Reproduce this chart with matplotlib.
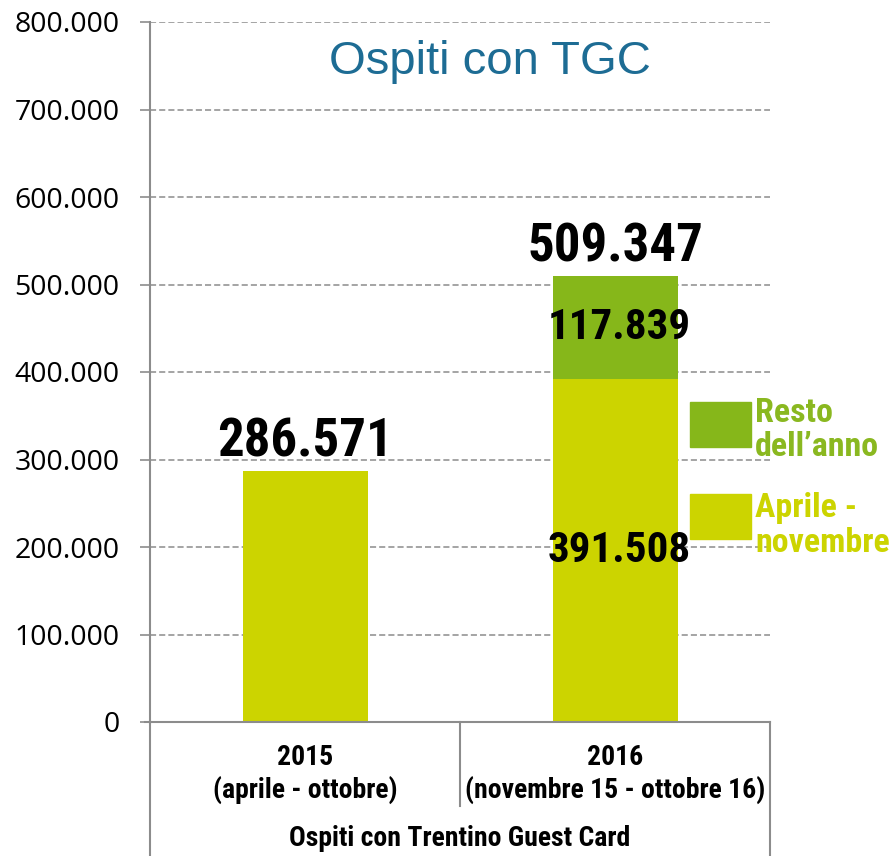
import matplotlib
matplotlib.use("Agg")
import matplotlib.pyplot as plt
from matplotlib.patches import Rectangle
from matplotlib.lines import Line2D
from matplotlib.ticker import FixedLocator, FuncFormatter

# ---- data ----
categories = ["2015\n(aprile - ottobre)", "2016\n(novembre 15 - ottobre 16)"]
aprile_novembre = [286571, 391508]
resto_anno = [0, 117839]
totals = [286571, 509347]
series_names = ["Resto\ndell\u2019anno", "Aprile -\nnovembre"]
yticks = [0, 100000, 200000, 300000, 400000, 500000, 600000, 700000, 800000]
title = "Ospiti con TGC"
axis_title = "Ospiti con Trentino Guest Card"

YELLOW = "#CCD400"
GREEN = "#86B71A"
GREEN_TXT = "#8AB820"
TITLE_C = "#1D6C94"
GRAY = "#8C8C8C"

NARROW = ["Roboto Condensed", "PT Sans Narrow", "Liberation Sans", "DejaVu Sans"]
REG = ["Open Sans", "Liberation Sans", "DejaVu Sans"]
TITLEF = ["Liberation Sans", "DejaVu Sans"]

def it_fmt(v):
    return f"{int(round(v)):,}".replace(",", ".")

fig = plt.figure(figsize=(8.92, 8.56), dpi=100)
ax = fig.add_axes([150/892, 1-722/856, 620/892, 700/856])

x = list(range(len(categories)))
w = 125/310
ax.bar(x, aprile_novembre, width=w, color=YELLOW, zorder=2)
ax.bar(x, resto_anno, width=w, bottom=aprile_novembre, color=GREEN, zorder=2)

ax.set_xlim(-0.5, 1.5)
ax.set_ylim(0, 800000)
ax.yaxis.set_major_locator(FixedLocator(yticks))
ax.yaxis.set_major_formatter(FuncFormatter(lambda v, p: it_fmt(v)))
ax.set_xticks([])
for lab in ax.get_yticklabels():
    lab.set_fontfamily(REG)
    lab.set_fontsize(20.5)
ax.tick_params(axis="y", length=7, width=1.2, color=GRAY, pad=15)
ax.yaxis.grid(True, linestyle=(0, (4, 2)), color=GRAY, linewidth=1.1, zorder=0)
ax.set_axisbelow(True)
for s in ["top", "right"]:
    ax.spines[s].set_visible(False)
for s in ["left", "bottom"]:
    ax.spines[s].set_color(GRAY)
    ax.spines[s].set_linewidth(1.5)

# value labels
for i, t in enumerate(totals):
    ax.annotate(it_fmt(t), (x[i], t), xytext=(0, 3), textcoords="offset points",
                ha="center", va="bottom", fontsize=38, fontweight="bold",
                family=NARROW, color="black", zorder=5)
for i in range(len(x)):
    if resto_anno[i] > 0:
        ax.text(x[i] + 0.015, aprile_novembre[i] + resto_anno[i] / 2, it_fmt(resto_anno[i]),
                ha="center", va="center", fontsize=31, fontweight="bold",
                family=NARROW, color="black", zorder=5)
        ax.text(x[i] + 0.015, aprile_novembre[i] / 2, it_fmt(aprile_novembre[i]),
                ha="center", va="center", fontsize=31, fontweight="bold",
                family=NARROW, color="black", zorder=5)

# title
ax.text(0.548, (722-62)/700, title, transform=ax.transAxes, ha="center", va="center",
        fontsize=34, color=TITLE_C, family=TITLEF)

# legend (manual)
leg = [(series_names[0], GREEN, GREEN_TXT, 447, 397), (series_names[1], YELLOW, YELLOW, 539, 492)]
for name, pc, tc, ybot, ytop in leg:
    ax.add_patch(Rectangle(((690-150)/620, (722-ybot)/700), 61/620, 45/700,
                           transform=ax.transAxes, color=pc, clip_on=False, zorder=3))
    ax.text((755-150)/620, (722-ytop)/700, name, transform=ax.transAxes, ha="left", va="top",
            fontsize=24.5, fontweight="bold", family=NARROW, color=tc, linespacing=1.1)

# category table below axis
for i, c in enumerate(categories):
    ax.text((x[i] + 0.5) / 2, -(774-722)/700, c, transform=ax.transAxes, ha="center",
            va="center", fontsize=20, fontweight="bold", family=NARROW, linespacing=1.2)
ax.text(0.5, -(838-722)/700, axis_title, transform=ax.transAxes, ha="center", va="center",
        fontsize=20, fontweight="bold", family=NARROW)
kw = dict(transform=ax.transAxes, color=GRAY, linewidth=1.5, clip_on=False)
ax.add_line(Line2D([0, 0], [0, -140/700], **kw))
ax.add_line(Line2D([0.5, 0.5], [0, -(806-722)/700], **kw))
ax.add_line(Line2D([1, 1], [0, -140/700], **kw))
ax.add_line(Line2D([-5/620, 0], [0, 0], **kw))

fig.savefig("out.png", dpi=100)
